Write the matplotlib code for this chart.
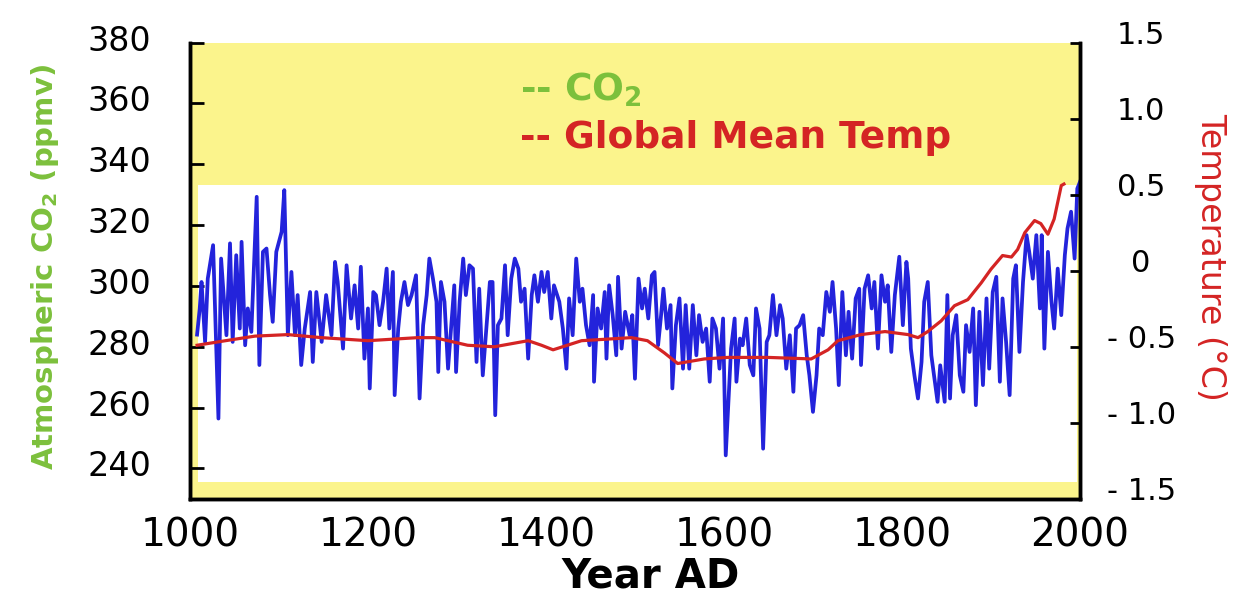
import matplotlib
matplotlib.use('Agg')
import matplotlib.pyplot as plt
import matplotlib.transforms as mtransforms

# blue series (left axis, ppmv)
blue_years = [1008, 1011, 1013, 1017, 1020, 1026, 1032, 1035, 1041, 1045, 1048, 1052, 1056, 1058,
              1062, 1065, 1069, 1075, 1078, 1082, 1086, 1090, 1093, 1097, 1103, 1106, 1110, 1114,
              1118, 1121, 1125, 1129, 1135, 1138, 1142, 1148, 1153, 1159, 1163, 1166, 1172, 1176,
              1181, 1185, 1189, 1192, 1196, 1200,
              1202, 1206, 1209, 1213, 1217, 1221, 1224, 1228, 1230, 1234, 1237, 1241, 1245, 1249,
              1254, 1258, 1262, 1266, 1269, 1273, 1277, 1279, 1282, 1286, 1290, 1294, 1297, 1299,
              1303, 1307, 1310, 1314, 1318, 1322, 1325, 1329, 1333, 1337, 1340, 1343, 1346, 1350,
              1354, 1357, 1361, 1365, 1369, 1372, 1376, 1380, 1384, 1387, 1391, 1395, 1398,
              1402, 1406, 1409, 1415, 1419, 1423, 1426, 1430, 1434, 1438, 1441, 1445, 1449, 1453,
              1454, 1458, 1462, 1466, 1468, 1471, 1475, 1479, 1481, 1485, 1489, 1494, 1497, 1500,
              1504, 1508, 1511, 1515, 1519, 1522, 1526, 1529, 1532, 1536, 1540, 1542, 1546, 1550,
              1554, 1557, 1561, 1565, 1569, 1572, 1576, 1580, 1584, 1587, 1591, 1595, 1599, 1602,
              1608, 1612, 1614, 1618, 1621, 1625, 1629, 1633, 1636, 1640, 1644, 1648, 1651, 1655,
              1659, 1663, 1666, 1670, 1674, 1678, 1681, 1685, 1689, 1693, 1696, 1700, 1704, 1707,
              1711, 1715, 1719, 1722, 1726, 1729, 1733, 1737, 1740, 1744, 1748, 1752, 1754, 1758,
              1762, 1766, 1769, 1773, 1777, 1781, 1784, 1788, 1792, 1797, 1801, 1805,
              1807, 1810, 1814, 1818, 1822, 1825, 1829, 1833, 1837, 1840, 1843, 1848, 1851, 1854,
              1857, 1861, 1865, 1869, 1872, 1876, 1880, 1883, 1887, 1891, 1895, 1898, 1902, 1906,
              1910, 1913, 1917, 1921, 1925, 1928, 1932, 1936, 1940, 1943, 1947, 1951, 1955, 1957,
              1960, 1964, 1968, 1971, 1975, 1979, 1983, 1986, 1990, 1994, 1997, 2000]
blue_ppm = [284.0, 292.6, 301.3, 281.6, 302.4, 313.4, 256.4, 309.0, 283.8, 314.0, 281.6, 310.1, 286.0, 314.5,
            280.5, 292.6, 284.9, 329.3, 274.0, 311.2, 312.3, 297.0, 288.2, 311.2, 317.8, 331.5, 283.8, 304.6,
            283.8, 297.0, 274.0, 286.0, 298.0, 275.0, 298.0, 281.6, 297.0, 283.8, 307.9, 301.3, 279.4, 306.8,
            289.3, 300.2, 286.0, 306.3, 276.1, 292.6,
            266.3, 298.0, 297.0, 287.1, 294.8, 305.7, 286.0, 304.6, 264.1, 286.0, 294.8, 301.3, 293.7, 297.0,
            303.5, 263.0, 287.1, 297.0, 309.0, 302.4, 294.8, 271.7, 301.3, 294.8, 272.8, 288.2, 300.2, 271.7,
            294.8, 309.0, 297.0, 306.8, 305.7, 275.0, 299.1, 270.6, 286.0, 301.3, 301.3, 257.5, 287.1, 289.3,
            306.8, 283.8, 302.4, 309.0, 305.7, 294.8, 299.1, 276.1, 297.0, 303.5, 294.8, 304.6, 298.0,
            304.6, 289.3, 300.2, 294.8, 286.0, 272.8, 295.9, 283.8, 309.0, 294.8, 299.1, 287.1, 280.5, 297.0,
            268.5, 292.6, 286.0, 298.0, 276.1, 300.2, 290.4, 277.2, 303.0, 279.4, 291.5, 283.8, 290.4, 269.5,
            302.4, 292.6, 299.1, 289.3, 303.5, 304.6, 280.5, 289.3, 299.1, 286.0, 293.7, 266.3, 287.1, 295.9,
            272.8, 293.7, 272.8, 293.7, 277.2, 290.4, 281.6, 286.0, 268.5, 289.3, 286.0, 272.8, 289.3, 244.3,
            279.4, 289.3, 268.5, 282.7, 280.5, 289.3, 274.0, 270.6, 292.6, 286.0, 246.5, 281.6, 283.8, 297.0,
            283.8, 293.7, 289.3, 272.8, 283.8, 265.2, 286.0, 287.1, 290.4, 277.2, 270.6, 258.6, 270.6, 286.0,
            283.8, 298.0, 291.5, 301.3, 286.0, 267.4, 298.0, 277.2, 291.5, 276.1, 295.9, 299.1, 274.0, 299.1,
            303.5, 292.6, 301.3, 279.4, 303.5, 294.8, 300.2, 278.3, 297.0, 309.6, 287.1, 307.9,
            302.4, 279.4, 270.6, 263.0, 275.0, 294.8, 301.3, 277.2, 268.5, 261.9, 273.9, 261.9, 297.0, 263.0,
            283.8, 290.4, 270.6, 265.2, 287.1, 278.3, 292.6, 260.8, 291.5, 267.4, 295.9, 272.8, 298.0, 303.0,
            268.5, 295.9, 281.6, 264.1, 302.4, 306.8, 278.3, 301.3, 316.7, 311.2, 302.4, 316.7, 292.6, 316.7,
            279.4, 311.2, 294.8, 286.0, 305.7, 290.4, 310.1, 318.9, 324.4, 309.0, 332.0, 334.2]

# red series (right axis, deg C)
red_years = [1008, 1040, 1073, 1110, 1148, 1200, 1256, 1275, 1312, 1342, 1380, 1395, 1408, 1440,
             1496, 1514, 1533, 1548, 1578, 1604, 1650, 1698, 1717, 1728, 1754, 1781, 1807, 1818,
             1829, 1844, 1859, 1874, 1889, 1900, 1913, 1923, 1930, 1938, 1949, 1956, 1964, 1971,
             1979, 1982]
red_temp = [-0.49, -0.46, -0.43, -0.42, -0.44, -0.46, -0.44, -0.44, -0.49, -0.50, -0.46, -0.49, -0.52, -0.46,
            -0.44, -0.46, -0.54, -0.61, -0.58, -0.57, -0.57, -0.58, -0.52, -0.46, -0.42, -0.40, -0.42, -0.44,
            -0.40, -0.33, -0.23, -0.19, -0.08, 0.01, 0.10, 0.09, 0.14, 0.25, 0.33, 0.31, 0.24, 0.34,
            0.56, 0.57]

x_ticks = [1000, 1200, 1400, 1600, 1800, 2000]
left_ticks = [240, 260, 280, 300, 320, 340, 360, 380]
right_ticks = [-1.5, -1.0, -0.5, 0, 0.5, 1.0, 1.5]
right_labels = ['- 1.5', '- 1.0', '- 0.5', '0', '0.5', '1.0', '1.5']

yellow = '#fbf48c'
green = '#7cc03c'
red = '#d42424'
blue = '#2323db'

fig = plt.figure(figsize=(12.53, 5.96), dpi=100)
ax = fig.add_axes([0.1516, 0.163, 0.7103, 0.7655])
ax.set_facecolor(yellow)
ax.set_xlim(1000, 2000)
ax.set_ylim(230, 380)

# white band behind the data
ax.fill_between([1009, 1997], 235.5, 333.3, color='white', lw=0, zorder=0)

ax.plot(blue_years, blue_ppm, color=blue, lw=2.7, zorder=2)

ax2 = ax.twinx()
ax2.set_ylim(-1.5, 1.5)
ax2.plot(red_years, red_temp, color=red, lw=2.3, zorder=3)

for a in (ax, ax2):
    a.spines['top'].set_visible(False)
    for s in ('left', 'right', 'bottom'):
        a.spines[s].set_linewidth(2.5)
        a.spines[s].set_color('black')

ax.set_xticks(x_ticks)
ax.tick_params(axis='x', length=0, pad=13, labelsize=28)
ax.set_yticks(left_ticks)
ax.tick_params(axis='y', direction='in', length=10, width=2, pad=28, labelsize=24)
ax2.set_yticks(right_ticks)
ax2.set_yticklabels(right_labels)
ax2.tick_params(axis='y', direction='in', length=7, width=2, pad=44, labelsize=22)
for lbl in ax2.get_yticklabels():
    lbl.set_horizontalalignment('center')
    lbl.set_transform(lbl.get_transform() + mtransforms.ScaledTranslation(0, 10 / 100, fig.dpi_scale_trans))
for lbl in ax.get_yticklabels():
    lbl.set_transform(lbl.get_transform() + mtransforms.ScaledTranslation(0, 5 / 100, fig.dpi_scale_trans))

# legend-like labels
ax.text(0.371, 0.896, r'-- CO$_\mathbf{2}$', color=green, fontsize=27, fontweight='bold',
        transform=ax.transAxes, va='center')
ax.text(0.371, 0.791, '-- Global Mean Temp', color=red, fontsize=27, fontweight='bold',
        transform=ax.transAxes, va='center')

fig.text(0.036, 0.552, r'Atmospheric CO$_\mathbf{2}$ (ppmv)', color=green, fontsize=21,
         fontweight='bold', rotation=90, ha='center', va='center')
fig.text(0.966, 0.569, 'Temperature (°C)', color=red, fontsize=24,
         rotation=270, ha='center', va='center')
fig.text(0.519, 0.032, 'Year AD', color='black', fontsize=29, fontweight='bold',
         ha='center', va='center')

fig.savefig('out.png', dpi=100)
